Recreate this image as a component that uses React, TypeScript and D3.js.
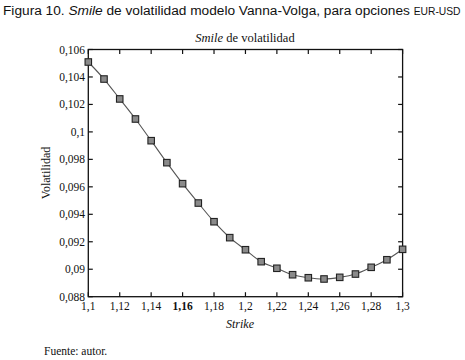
import React from "react";
import * as d3 from "d3";

const strikes = [1.1, 1.11, 1.12, 1.13, 1.14, 1.15, 1.16, 1.17, 1.18, 1.19, 1.2, 1.21, 1.22, 1.23, 1.24, 1.25, 1.26, 1.27, 1.28, 1.29, 1.3];
const volatility = [0.10509, 0.10385, 0.1024, 0.10094, 0.09936, 0.09776, 0.09623, 0.09482, 0.09346, 0.0923, 0.09142, 0.09055, 0.09007, 0.0896, 0.08938, 0.08929, 0.08941, 0.08965, 0.09014, 0.09069, 0.09145];
const xTicks = [1.1, 1.12, 1.14, 1.16, 1.18, 1.2, 1.22, 1.24, 1.26, 1.28, 1.3];
const yTicks = [0.088, 0.09, 0.092, 0.094, 0.096, 0.098, 0.1, 0.102, 0.104, 0.106];
const boldXTick = 1.16;

const locale = d3.formatLocale({ decimal: ",", thousands: ".", grouping: [3], currency: ["", ""] });
const fmt = locale.format("~g");

export default function App() {
  const left = 88.3, right = 402.6, top = 49.5, bottom = 296.7;
  const x = d3.scaleLinear().domain([1.1, 1.3]).range([left, right]);
  const y = d3.scaleLinear().domain([0.088, 0.106]).range([bottom, top]);
  const pts = strikes.map((s, i) => [x(s), y(volatility[i])] as [number, number]);
  const line = d3.line().curve(d3.curveCatmullRom.alpha(0.5))(pts) || "";
  const serif = "'Liberation Serif', 'Times New Roman', serif";
  const sans = "'Liberation Sans', Arial, sans-serif";
  const tl = 4.5;
  const sq = 6.5;
  return (
    <svg width={465} height={360} style={{ position: "absolute", left: 0, top: 0, background: "#fff" }}>
      <text x={3} y={15} fontFamily={sans} fontSize={13.7} fill="#111">
        Figura 10. <tspan fontStyle="italic">Smile</tspan> de volatilidad modelo Vanna-Volga, para opciones <tspan fontSize={10.3}>EUR-USD</tspan>
      </text>
      <text x={245} y={42} textAnchor="middle" fontFamily={serif} fontSize={12.5} fill="#111">
        <tspan fontStyle="italic">Smile</tspan> de volatilidad
      </text>
      <rect x={left} y={top} width={right - left} height={bottom - top} fill="none" stroke="#111" strokeWidth={1.3} />
      {xTicks.map((t) => (
        <g key={"x" + t}>
          <line x1={x(t)} x2={x(t)} y1={bottom} y2={bottom - tl} stroke="#111" strokeWidth={1.2} />
          <line x1={x(t)} x2={x(t)} y1={top} y2={top + tl} stroke="#111" strokeWidth={1.2} />
          <text x={x(t)} y={310} textAnchor="middle" fontFamily={serif} fontSize={11.5} fill="#111" fontWeight={t === boldXTick ? "bold" : "normal"}>
            {fmt(t)}
          </text>
        </g>
      ))}
      {yTicks.map((t) => (
        <g key={"y" + t}>
          <line x1={left} x2={left + tl} y1={y(t)} y2={y(t)} stroke="#111" strokeWidth={1.2} />
          <line x1={right} x2={right - tl} y1={y(t)} y2={y(t)} stroke="#111" strokeWidth={1.2} />
          <text x={85} y={y(t) + 4} textAnchor="end" fontFamily={serif} fontSize={11.5} fill="#111">
            {fmt(t)}
          </text>
        </g>
      ))}
      <text x={240} y={328} textAnchor="middle" fontFamily={serif} fontSize={12} fontStyle="italic" fill="#111">Strike</text>
      <text transform="translate(50,173) rotate(-90)" textAnchor="middle" fontFamily={serif} fontSize={12} fill="#111">Volatilidad</text>
      <path d={line} fill="none" stroke="#555" strokeWidth={1.1} />
      {pts.map(([px, py], i) => (
        <rect key={i} x={px - sq / 2} y={py - sq / 2} width={sq} height={sq} fill="#8a8a8a" stroke="#222" strokeWidth={1.1} />
      ))}
      <text x={44} y={355} fontFamily={serif} fontSize={11.5} fill="#111">Fuente: autor.</text>
    </svg>
  );
}
